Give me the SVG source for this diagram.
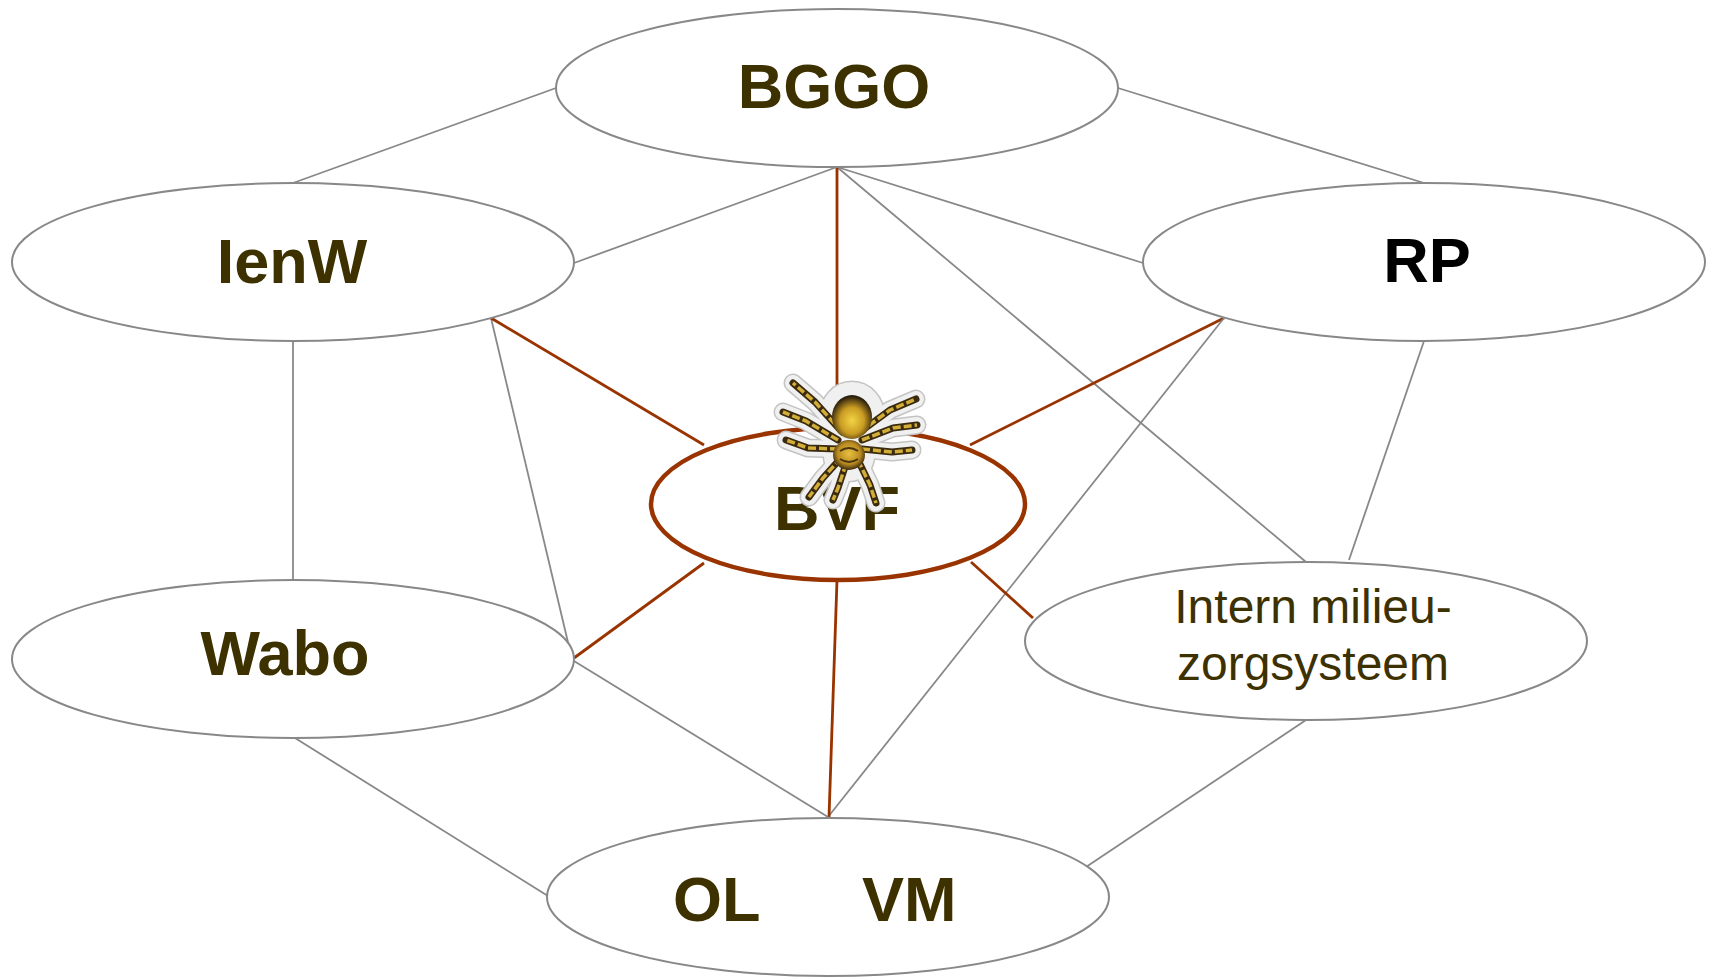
<svg xmlns="http://www.w3.org/2000/svg" width="1716" height="979" viewBox="0 0 1716 979">
<style>
.node{fill:#fff;stroke:#888;stroke-width:2}
.bvf{fill:#fff;stroke:#993300;stroke-width:4.5}
.g{stroke:#888;stroke-width:1.8;fill:none}
.r{stroke:#993300;stroke-width:2.8;fill:none}
.lb{font-family:"Liberation Sans",Arial,sans-serif;font-weight:bold;font-size:63px;fill:#3d3100;text-anchor:middle}
.lr{font-family:"Liberation Sans",Arial,sans-serif;font-size:48px;fill:#3d3100;text-anchor:middle}
.halo{stroke:#c4c4c4;stroke-width:19;fill:none;stroke-linecap:round;stroke-linejoin:round}
.halo2{stroke:#f0f0f0;stroke-width:16;fill:none;stroke-linecap:round;stroke-linejoin:round}
.leg{stroke:#3a2a10;stroke-width:7;fill:none;stroke-linecap:round;stroke-linejoin:round}
.band{stroke:#d2ad38;stroke-width:3.5;fill:none;stroke-dasharray:8 3;stroke-linejoin:round}
</style>
<defs>
<radialGradient id="abd" cx="50%" cy="58%" r="55%">
<stop offset="0" stop-color="#f2d445"/>
<stop offset="0.55" stop-color="#c99b22"/>
<stop offset="1" stop-color="#2a1e0c"/>
</radialGradient>
<radialGradient id="ceph" cx="50%" cy="45%" r="55%">
<stop offset="0" stop-color="#e8c040"/>
<stop offset="0.65" stop-color="#b88a20"/>
<stop offset="1" stop-color="#3a2a10"/>
</radialGradient>
</defs>
<rect width="1716" height="979" fill="#fff"/>
<g id="connectors">
<line class="g" x1="556" y1="88" x2="293" y2="183"/>
<line class="g" x1="1118" y1="88" x2="1424" y2="183"/>
<line class="g" x1="837" y1="167" x2="574" y2="263"/>
<line class="g" x1="837" y1="167" x2="1143" y2="263"/>
<line class="g" x1="837" y1="167" x2="1306" y2="562"/>
<line class="r" x1="837" y1="167" x2="837" y2="428"/>
<line class="g" x1="293" y1="341" x2="293" y2="580"/>
<line class="g" x1="491" y1="318" x2="571" y2="655"/>
<line class="r" x1="491" y1="318" x2="704" y2="445"/>
<line class="r" x1="1224" y1="318" x2="970" y2="445"/>
<line class="g" x1="1224" y1="318" x2="828" y2="817"/>
<line class="g" x1="1424" y1="341" x2="1349" y2="560"/>
<line class="r" x1="704" y1="563" x2="574" y2="658"/>
<line class="r" x1="837" y1="580" x2="829" y2="817"/>
<line class="r" x1="971" y1="562" x2="1033" y2="618"/>
<line class="g" x1="574" y1="661" x2="828" y2="817"/>
<line class="g" x1="295" y1="738" x2="548" y2="896"/>
<line class="g" x1="1306" y1="720" x2="1086" y2="867"/>
</g>
<g id="n-bggo">
<ellipse class="node" cx="837" cy="88" rx="281" ry="79"/>
<text class="lb" x="834" y="108">BGGO</text>
</g>
<g id="n-ienw">
<ellipse class="node" cx="293" cy="262" rx="281" ry="79"/>
<text class="lb" x="292" y="283">IenW</text>
</g>
<g id="n-rp">
<ellipse class="node" cx="1424" cy="262" rx="281" ry="79"/>
<text class="lb" x="1427" y="282" style="fill:#000">RP</text>
</g>
<g id="n-wabo">
<ellipse class="node" cx="293" cy="659" rx="281" ry="79"/>
<text class="lb" x="285" y="675">Wabo</text>
</g>
<g id="n-intern">
<ellipse class="node" cx="1306" cy="641" rx="281" ry="79"/>
<text class="lr" x="1313" y="623">Intern milieu-</text>
<text class="lr" x="1313" y="680">zorgsysteem</text>
</g>
<g id="n-olvm">
<ellipse class="node" cx="828" cy="897" rx="281" ry="79"/>
<text class="lb" y="921" style="text-anchor:start"><tspan x="673">OL</tspan><tspan x="862">VM</tspan></text>
</g>
<g id="n-bvf">
<ellipse class="bvf" cx="838" cy="504" rx="187" ry="76"/>
<text class="lb" x="837" y="530">BVF</text>
</g>
<g id="spider">
<g class="halo">
<path d="M842,432 L815,402 L793,383"/>
<path d="M838,440 L806,421 L783,412"/>
<path d="M838,449 L808,448 L786,440"/>
<path d="M841,458 L823,478 L809,497"/>
<path d="M860,432 L890,410 L916,399"/>
<path d="M862,440 L893,428 L917,425"/>
<path d="M862,449 L892,452 L912,450"/>
<path d="M858,460 L870,485 L876,503"/>
<path d="M846,464 L838,488 L833,500"/>
<ellipse cx="852" cy="416" rx="24" ry="26"/>
<ellipse cx="849" cy="456" rx="17" ry="17"/>
</g>
<g class="halo2">
<path d="M842,432 L815,402 L793,383"/>
<path d="M838,440 L806,421 L783,412"/>
<path d="M838,449 L808,448 L786,440"/>
<path d="M841,458 L823,478 L809,497"/>
<path d="M860,432 L890,410 L916,399"/>
<path d="M862,440 L893,428 L917,425"/>
<path d="M862,449 L892,452 L912,450"/>
<path d="M858,460 L870,485 L876,503"/>
<path d="M846,464 L838,488 L833,500"/>
<ellipse cx="852" cy="416" rx="24" ry="26" fill="#f0f0f0"/>
<ellipse cx="849" cy="456" rx="17" ry="17" fill="#f0f0f0"/>
</g>
<g class="leg">
<path d="M842,432 L815,402 L793,383"/>
<path d="M838,440 L806,421 L783,412"/>
<path d="M838,449 L808,448 L786,440"/>
<path d="M841,458 L823,478 L809,497"/>
<path d="M860,432 L890,410 L916,399"/>
<path d="M862,440 L893,428 L917,425"/>
<path d="M862,449 L892,452 L912,450"/>
<path d="M858,460 L870,485 L876,503"/>
<path d="M846,464 L838,488 L833,500"/>
</g>
<g class="band">
<path d="M842,432 L815,402 L793,383"/>
<path d="M838,440 L806,421 L783,412"/>
<path d="M838,449 L808,448 L786,440"/>
<path d="M841,458 L823,478 L809,497"/>
<path d="M860,432 L890,410 L916,399"/>
<path d="M862,440 L893,428 L917,425"/>
<path d="M862,449 L892,452 L912,450"/>
<path d="M858,460 L870,485 L876,503"/>
<path d="M846,464 L838,488 L833,500"/>
</g>
<ellipse cx="852" cy="417" rx="20" ry="22" fill="url(#abd)"/>
<ellipse cx="849" cy="455" rx="16" ry="15" fill="url(#ceph)"/>
<path d="M840,451 Q849,445 858,451 M840,459 Q849,465 858,459" stroke="#4a3510" stroke-width="2" fill="none"/>
</g>
</svg>
